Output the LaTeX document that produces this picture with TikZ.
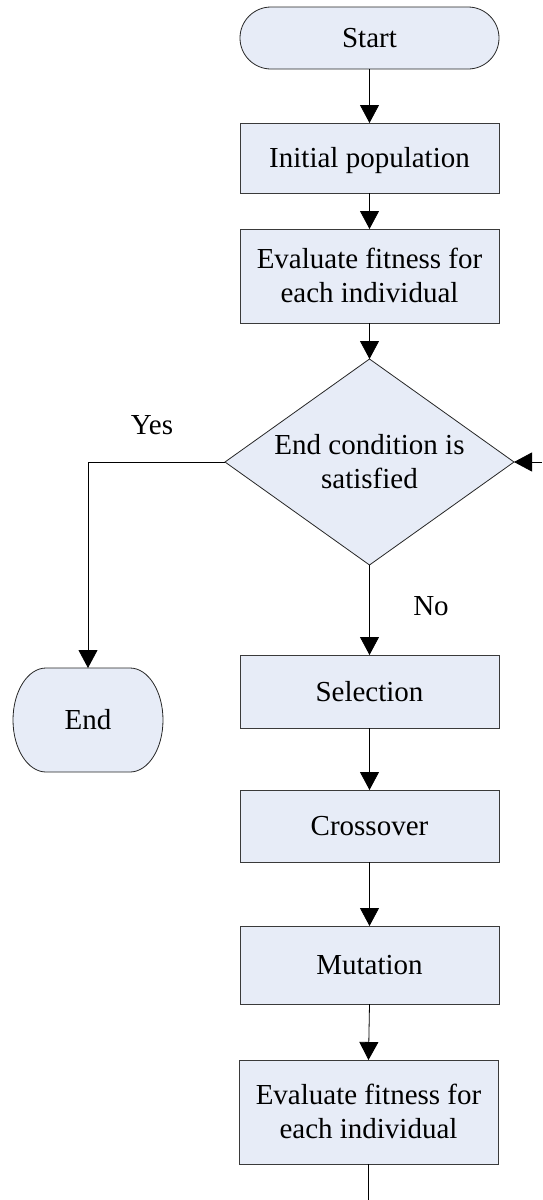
\documentclass[tikz,border=0pt]{standalone}
\usepackage{fontspec}
\setmainfont{Liberation Serif}
\usetikzlibrary{arrows.meta,shapes.geometric,shapes.misc}
\definecolor{boxfill}{HTML}{E7ECF7}
\definecolor{boxline}{HTML}{3A3A3A}
\begin{document}
\begin{tikzpicture}[x=1pt,y=-1pt,
  every node/.style={font=\fontsize{29}{34}\selectfont, outer sep=0pt},
  proc/.style={rectangle, draw=boxline, fill=boxfill, line width=1pt,
    minimum width=259, inner sep=0pt, align=center, text height=19pt, text depth=0pt},
  twoline/.style={text height=53pt, text depth=0pt},
  term/.style={rounded rectangle, draw=black!85, fill=boxfill, line width=0.8pt,
    minimum width=259, minimum height=62, inner sep=0pt, text height=19pt, text depth=0pt},
  decision/.style={diamond, draw=black!85, fill=boxfill, line width=0.8pt,
    minimum width=289, minimum height=206, inner sep=0pt},
  lbl/.style={inner sep=0pt, text height=19pt, text depth=0pt},
  arr/.style={line width=0.8pt, -{Triangle[width=19pt,length=18pt]}},
  ln/.style={line width=0.8pt}
]
\useasboundingbox (0,0) rectangle (542,1200);

\node[term] (start) at (369.5,38) {Start};
\node[proc, minimum height=70] (init) at (369.5,158) {Initial population};
\node[proc, twoline, minimum height=94] (eval1) at (369.5,276) {Evaluate fitness for\\each individual};
\node[decision] (dec) at (369.5,462) {};
\node[lbl, twoline, align=center] (dectext) at (dec.center) {End condition is\\satisfied};
\node[proc, minimum height=73] (sel) at (369.5,691.5) {Selection};
\node[proc, minimum height=72] (cross) at (369.5,826) {Crossover};
\node[proc, minimum height=78] (mut) at (369.5,965) {Mutation};
\node[proc, twoline, minimum height=104] (eval2) at (368.5,1112) {Evaluate fitness for\\each individual};

% End terminal with elliptical corners
\node[lbl, minimum width=150, minimum height=104] (end) at (88,720) {};
\draw[draw=black!85, fill=boxfill, line width=0.8pt]
  ([xshift=33pt]end.north west) -- ([xshift=-33pt]end.north east)
  arc[start angle=-90, end angle=90, x radius=33, y radius=52]
  -- ([xshift=33pt]end.south west)
  arc[start angle=90, end angle=270, x radius=33, y radius=52] -- cycle;
\node[lbl] (endtext) at (end.center) {End};

\coordinate (loopin) at (542,462);
\coordinate (bottomout) at (368.5,1200);
\coordinate (yescorner) at (88,462);

\draw[arr] (start) -- (init);
\draw[arr] (init) -- (eval1);
\draw[arr] (eval1) -- (dec.north);
\draw[arr] (dec.south) -- (sel);
\draw[arr] (sel) -- (cross);
\draw[arr] (cross) -- (mut);
\draw[arr] (mut.south) -- (eval2.north);
\draw[ln] (eval2.south) -- (bottomout);
\draw[arr] (loopin) -- (dec.east);
\draw[arr] (dec.west) -- (yescorner) -- (end.north);

\node[lbl] (yes) at (152,425) {Yes};
\node[lbl] (no) at (431,606) {No};
\end{tikzpicture}
\end{document}
